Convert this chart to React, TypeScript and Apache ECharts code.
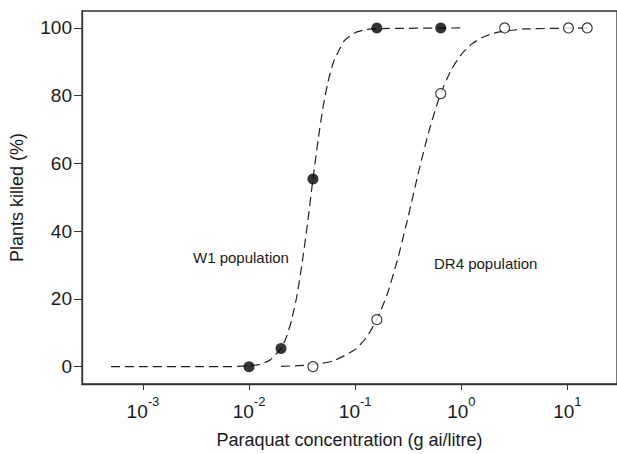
import React, { useEffect, useRef } from "react";
import * as echarts from "echarts";

// Observed data (paraquat concentration in g ai/litre, % plants killed)
const w1Conc = [0.01, 0.02, 0.04, 0.16, 0.64];
const w1Killed = [0, 5.4, 55.4, 100, 100];
const dr4Conc = [0.04, 0.16, 0.64, 2.56, 10.24, 15.36];
const dr4Killed = [0, 13.9, 80.6, 100, 100, 100];

// Fitted dose-response curves
const w1CurveConc = [0.0005, 0.0063, 0.01, 0.0126, 0.0158, 0.02, 0.0224, 0.0251, 0.0282, 0.0316, 0.0355, 0.0398, 0.0447, 0.0501, 0.0562, 0.0631, 0.0794, 0.1, 0.126, 0.158, 1.0];
const w1CurveKilled = [0, 0, 0.3, 0.7, 2.0, 5.4, 8.6, 13.6, 20.8, 30.5, 42.1, 54.8, 66.9, 77.1, 84.8, 90.3, 96.3, 98.6, 99.5, 99.8, 100];
const dr4CurveConc = [0.02, 0.04, 0.063, 0.1, 0.126, 0.158, 0.2, 0.251, 0.316, 0.398, 0.501, 0.631, 0.794, 1.0, 1.26, 1.58, 2.0, 2.51, 3.98, 15.36];
const dr4CurveKilled = [0.1, 0.6, 1.8, 5.1, 8.4, 13.6, 21.3, 31.7, 44.3, 57.8, 70.1, 80.1, 87.3, 92.2, 95.3, 97.2, 98.4, 99.0, 99.7, 100];

const xTicks = [-3, -2, -1, 0, 1];
const yTicks = [0, 20, 40, 60, 80, 100];

const FONT = "'Liberation Sans', Arial, Helvetica, sans-serif";
const INK = "#1a1a1a";

const toPairs = (xs: number[], ys: number[]) => xs.map((x, i) => [Math.log10(x), ys[i]]);

export default function App() {
  const ref = useRef<HTMLDivElement>(null);
  useEffect(() => {
    if (!ref.current) return;
    const chart = echarts.init(ref.current, null, { renderer: "svg" });
    const dash = [9, 5];
    chart.setOption({
      animation: false,
      backgroundColor: "#ffffff",
      textStyle: { fontFamily: FONT },
      grid: {
        left: 78,
        right: -10,
        top: 11,
        bottom: 62,
        show: true,
        borderColor: "#333",
        borderWidth: 1.3,
        backgroundColor: "transparent",
      },
      xAxis: {
        type: "value",
        min: -3.574,
        max: 1.467,
        name: "Paraquat concentration (g ai/litre)",
        nameLocation: "middle",
        nameGap: 47,
        nameTextStyle: { fontSize: 18, color: INK, fontFamily: FONT },
        axisLine: { show: true, onZero: false, lineStyle: { color: "#333", width: 1.3 } },
        axisTick: { show: true, length: 6, customValues: xTicks, lineStyle: { color: "#333" } },
        splitLine: { show: false },
        axisLabel: {
          customValues: xTicks,
          margin: 11,
          formatter: (v: number) => `{b|10}{s|${Math.round(v)}}`,
          rich: {
            b: { fontSize: 19, color: INK, fontFamily: FONT, lineHeight: 26, verticalAlign: "bottom" },
            s: { fontSize: 13, color: INK, fontFamily: FONT, lineHeight: 13, verticalAlign: "top" },
          },
        },
      },
      yAxis: {
        type: "value",
        min: -5.1,
        max: 105,
        name: "Plants killed (%)",
        nameLocation: "middle",
        nameGap: 56,
        nameTextStyle: { fontSize: 18, color: INK, fontFamily: FONT },
        axisLine: { show: true, onZero: false, lineStyle: { color: "#333", width: 1.3 } },
        axisTick: { show: true, length: 8, customValues: yTicks, lineStyle: { color: "#333" } },
        splitLine: { show: false },
        axisLabel: { customValues: yTicks, margin: 10, fontSize: 19, color: INK, fontFamily: FONT },
      },
      graphic: [
        { type: "text", left: 193, top: 250, style: { text: "W1 population", fontSize: 15, fill: INK, fontFamily: FONT } },
        { type: "text", left: 434, top: 256, style: { text: "DR4 population", fontSize: 15, fill: INK, fontFamily: FONT } },
      ],
      series: [
        {
          type: "line",
          data: toPairs(w1CurveConc, w1CurveKilled),
          showSymbol: false,
          smooth: 0.2,
          lineStyle: { color: "#222", width: 1.2, type: dash },
          z: 2,
        },
        {
          type: "line",
          data: toPairs(dr4CurveConc, dr4CurveKilled),
          showSymbol: false,
          smooth: 0.2,
          lineStyle: { color: "#222", width: 1.2, type: dash },
          z: 2,
        },
        {
          type: "scatter",
          data: toPairs(w1Conc, w1Killed),
          symbol: "circle",
          symbolSize: 11,
          itemStyle: { color: "#000", borderColor: "#000", borderWidth: 0 },
          z: 3,
        },
        {
          type: "scatter",
          data: toPairs(dr4Conc, dr4Killed),
          symbol: "circle",
          symbolSize: 10,
          itemStyle: { color: "#fff", borderColor: "#111", borderWidth: 1.2 },
          z: 3,
        },
      ],
    });
    return () => chart.dispose();
  }, []);
  return <div ref={ref} style={{ width: 617, height: 454, position: "absolute", left: 0, top: 0 }} />;
}
